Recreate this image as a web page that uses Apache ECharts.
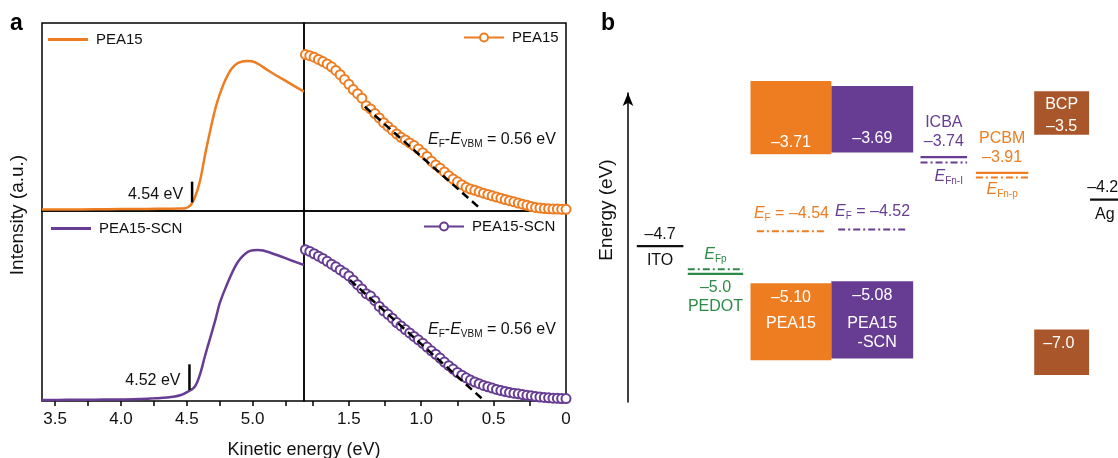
<!DOCTYPE html>
<html>
<head>
<meta charset="utf-8">
<title>UPS spectra and energy levels</title>
<script src="https://cdn.jsdelivr.net/npm/echarts@6/dist/echarts.min.js"></script>
<style>html,body{margin:0;padding:0;background:#fff;}</style>
</head>
<body>
<div id="chart" style="width:1118px;height:458px;"></div>
<script>
const FONT = '"Liberation Sans", Arial, sans-serif';
const ORANGE = '#EE7D22', PURPLE = '#673C93', BROWN = '#A9562A', GREEN = '#2E8B47', INK = '#111';

// (a) secondary electron cutoff: kinetic energy (eV) / normalised intensity
const cutoffKE_PEA15 = [3.40, 3.60, 3.80, 4.00, 4.20, 4.35, 4.45, 4.49, 4.51, 4.53, 4.56, 4.60, 4.64, 4.68, 4.72, 4.75, 4.79, 4.84, 4.89, 4.96, 5.02, 5.13, 5.26, 5.39];
const cutoffI_PEA15  = [0.008, 0.008, 0.009, 0.010, 0.011, 0.012, 0.013, 0.015, 0.021, 0.032, 0.070, 0.160, 0.305, 0.435, 0.553, 0.620, 0.693, 0.757, 0.788, 0.798, 0.791, 0.742, 0.688, 0.635];
const cutoffKE_SCN = [3.40, 3.60, 3.80, 4.00, 4.15, 4.25, 4.35, 4.45, 4.51, 4.56, 4.60, 4.64, 4.68, 4.72, 4.75, 4.80, 4.86, 4.91, 4.98, 5.04, 5.08, 5.19, 5.29, 5.39];
const cutoffI_SCN  = [0.005, 0.006, 0.007, 0.008, 0.011, 0.014, 0.018, 0.030, 0.050, 0.075, 0.140, 0.242, 0.338, 0.435, 0.515, 0.605, 0.698, 0.752, 0.790, 0.795, 0.792, 0.767, 0.741, 0.716];
const cutoffValues = [4.54, 4.52];

// (a) valence band region: binding energy (eV) / normalised intensity
const vbBE = [1.80, 1.77, 1.74, 1.71, 1.68, 1.65, 1.62, 1.59, 1.56, 1.53, 1.50, 1.47, 1.44, 1.41, 1.38, 1.35, 1.32, 1.29, 1.26, 1.23, 1.20, 1.17, 1.14, 1.11, 1.08, 1.05, 1.02, 0.99, 0.96, 0.93, 0.90, 0.87, 0.84, 0.81, 0.78, 0.75, 0.72, 0.69, 0.66, 0.63, 0.60, 0.57, 0.54, 0.51, 0.48, 0.45, 0.42, 0.39, 0.36, 0.33, 0.30, 0.27, 0.24, 0.21, 0.18, 0.15, 0.12, 0.09, 0.06, 0.03, 0.00];
const vbI_PEA15 = [0.832, 0.826, 0.818, 0.806, 0.795, 0.782, 0.767, 0.748, 0.725, 0.700, 0.674, 0.646, 0.624, 0.600, 0.560, 0.543, 0.518, 0.495, 0.470, 0.450, 0.430, 0.410, 0.392, 0.378, 0.362, 0.348, 0.330, 0.310, 0.290, 0.265, 0.245, 0.228, 0.208, 0.188, 0.170, 0.155, 0.140, 0.126, 0.117, 0.110, 0.102, 0.095, 0.088, 0.081, 0.074, 0.068, 0.061, 0.055, 0.049, 0.042, 0.036, 0.030, 0.024, 0.019, 0.016, 0.013, 0.012, 0.010, 0.010, 0.009, 0.009];
const vbI_SCN = [0.796, 0.787, 0.775, 0.762, 0.750, 0.735, 0.720, 0.706, 0.690, 0.675, 0.658, 0.636, 0.612, 0.590, 0.565, 0.552, 0.528, 0.498, 0.475, 0.456, 0.436, 0.413, 0.395, 0.376, 0.358, 0.340, 0.322, 0.304, 0.284, 0.264, 0.246, 0.226, 0.205, 0.186, 0.168, 0.150, 0.136, 0.122, 0.110, 0.100, 0.091, 0.082, 0.075, 0.068, 0.061, 0.055, 0.050, 0.045, 0.041, 0.038, 0.034, 0.030, 0.027, 0.024, 0.021, 0.019, 0.017, 0.015, 0.014, 0.013, 0.013];
// linear extrapolation of the VB onset
const fitPEA15 = [[1.39, 0.555], [0.594, 0.014]];
const fitSCN = [[1.493, 0.637], [0.583, 0.014]];
const vbOffset = 0.56;

// (b) energy levels (eV)
const perovskiteCBM = [-3.71, -3.69];
const perovskiteVBM = [-5.10, -5.08];
const perovskiteEF = [-4.54, -4.52];
const itoWF = -4.7, pedotLevel = -5.0, agWF = -4.2;
const icbaLUMO = -3.74, pcbmLUMO = -3.91;
const bcpLevels = [-3.5, -7.0];
const quasiFermi = [-4.95, -3.80, -3.96]; // E_Fp, E_Fn-I, E_Fn-p

// schematic layout for (b): columns on a 0-100 axis, box depths in eV
const col = {
  ITO: [1.8, 11.3], PEDOT: [12.2, 23.5], PEA15: [25.0, 41.5], SCN: [41.5, 58.2],
  ICBA: [59.7, 69.2], PCBM: [71.0, 81.7], BCP: [82.9, 94.1], Ag: [94.3, 103]
};
const efCol = [[26.3, 40.4], [42.9, 56.9]];
const cbDepth = [0.79, 0.715, 0.47];
const vbDepth = [0.83, 0.83, 0.49];
const bcpVBDrawn = -5.6; // axis break for the -7.0 level

const mid = c => (c[0] + c[1]) / 2;
const fmt = (v, d) => '\u2013' + Math.abs(v).toFixed(d);
const zip = (xs, ys) => xs.map((x, i) => [x, ys[i]]);

const chart = echarts.init(document.getElementById('chart'));

function richFor(color) {
  return {
    i: { fontStyle: 'italic', fontSize: 16, fontFamily: FONT, fill: color },
    s: { fontSize: 10, fontFamily: FONT, fill: color, padding: [9, 0, 0, 0] }
  };
}

// boxes in (b)
const boxes = [
  [col.PEA15[0], col.PEA15[1], perovskiteCBM[0] + cbDepth[0], perovskiteCBM[0]],
  [col.SCN[0], col.SCN[1], perovskiteCBM[1] + cbDepth[1], perovskiteCBM[1]],
  [col.BCP[0], col.BCP[1], bcpLevels[0] + cbDepth[2], bcpLevels[0]],
  [col.PEA15[0], col.PEA15[1], perovskiteVBM[0], perovskiteVBM[0] - vbDepth[0]],
  [col.SCN[0], col.SCN[1], perovskiteVBM[1], perovskiteVBM[1] - vbDepth[1]],
  [col.BCP[0], col.BCP[1], bcpVBDrawn, bcpVBDrawn - vbDepth[2]]
];
const boxColors = [ORANGE, PURPLE, BROWN, ORANGE, PURPLE, BROWN];

// level lines in (b): x0, x1, energy
const levels = [
  [col.ITO[0], col.ITO[1], itoWF],
  [col.PEDOT[0], col.PEDOT[1], pedotLevel],
  [col.PEDOT[0], col.PEDOT[1], quasiFermi[0]],
  [efCol[0][0], efCol[0][1], perovskiteEF[0]],
  [efCol[1][0], efCol[1][1], perovskiteEF[1]],
  [col.ICBA[0], col.ICBA[1], icbaLUMO],
  [col.ICBA[0], col.ICBA[1], quasiFermi[1]],
  [col.PCBM[0], col.PCBM[1], pcbmLUMO],
  [col.PCBM[0], col.PCBM[1], quasiFermi[2]],
  [col.Ag[0], col.Ag[1], agWF]
];
// colour, 0 solid / 1 dash-dot
const levelStyle = [
  [INK, 0], [GREEN, 0], [GREEN, 1], [ORANGE, 1], [PURPLE, 1],
  [PURPLE, 0], [PURPLE, 1], [ORANGE, 0], [ORANGE, 1], [INK, 0]
];

// text in (b): x, energy, dy(px), text, color, align
const labels = [
  [mid(col.ITO), itoWF, -12, fmt(itoWF, 1), INK],
  [mid(col.ITO), itoWF, 14, 'ITO', INK],
  [mid(col.PEDOT), quasiFermi[0], -15, '{i|E}{s|Fp}', GREEN],
  [mid(col.PEDOT), pedotLevel, 14, fmt(pedotLevel, 1), GREEN],
  [mid(col.PEDOT), pedotLevel, 33, 'PEDOT', GREEN],
  [mid(efCol[0]), perovskiteEF[0], -18, '{i|E}{s|F} = ' + fmt(perovskiteEF[0], 2), ORANGE],
  [mid(efCol[1]), perovskiteEF[1], -18, '{i|E}{s|F} = ' + fmt(perovskiteEF[1], 2), PURPLE],
  [mid(col.PEA15), perovskiteCBM[0], -12, fmt(perovskiteCBM[0], 2), '#fff'],
  [mid(col.SCN), perovskiteCBM[1], -14, fmt(perovskiteCBM[1], 2), '#fff'],
  [mid(col.PEA15), perovskiteVBM[0], 14, fmt(perovskiteVBM[0], 2), '#fff'],
  [mid(col.PEA15), perovskiteVBM[0], 40, 'PEA15', '#fff'],
  [mid(col.SCN), perovskiteVBM[1], 14, fmt(perovskiteVBM[1], 2), '#fff'],
  [mid(col.SCN), perovskiteVBM[1], 42, 'PEA15', '#fff'],
  [mid(col.SCN) + 1, perovskiteVBM[1], 61, '-SCN', '#fff'],
  [mid(col.ICBA), icbaLUMO, -34, 'ICBA', PURPLE],
  [mid(col.ICBA), icbaLUMO, -15, fmt(icbaLUMO, 2), PURPLE],
  [mid(col.ICBA) + 1, quasiFermi[1], 14, '{i|E}{s|Fn-I}', PURPLE],
  [mid(col.PCBM), pcbmLUMO, -34, 'PCBM', ORANGE],
  [mid(col.PCBM), pcbmLUMO, -15, fmt(pcbmLUMO, 2), ORANGE],
  [mid(col.PCBM), quasiFermi[2], 12, '{i|E}{s|Fn-p}', ORANGE],
  [mid(col.BCP), bcpLevels[0], -30, 'BCP', '#fff'],
  [mid(col.BCP), bcpLevels[0], -8, fmt(bcpLevels[0], 1), '#fff'],
  [mid(col.BCP) - 0.6, bcpVBDrawn, 14, fmt(bcpLevels[1], 1), '#fff'],
  [col.Ag[0] - 0.6, agWF, -12, fmt(agWF, 1), INK, 'left'],
  [col.Ag[0] + 1, agWF, 15, 'Ag', INK, 'left']
];

function panelGrid(left, top, width, height) {
  return { left, top, width, height, show: true, borderColor: '#000', borderWidth: 1.5, backgroundColor: 'transparent' };
}
function hiddenAxis(gridIndex, extra) {
  return Object.assign({ type: 'value', gridIndex, show: false }, extra);
}
const keTicks = [3.5, 3.75, 4.0, 4.25, 4.5, 4.75, 5.0, 5.25];
const beTicks = [1.75, 1.5, 1.25, 1.0, 0.75, 0.5, 0.25];
const tickStyle = { show: true, inside: false, length: 5, lineStyle: { color: '#000', width: 1.5 } };
const labelStyle = { fontSize: 17, fontFamily: FONT, color: INK, margin: 10 };

const legendText = { fontSize: 15, fontFamily: FONT, color: INK, padding: [0, 0, 0, 3] };
function lineLegend(name, left, top) {
  return { data: [name], left, top, icon: 'rect', itemWidth: 40, itemHeight: 3, padding: 0, selectedMode: false,
    textStyle: legendText, formatter: n => n.split(' ')[0] };
}
function symbolLegend(name, left, top) {
  return { data: [name], left, top, itemWidth: 40, itemHeight: 10, padding: 0, selectedMode: false,
    textStyle: legendText, formatter: n => n.split(' ')[0] };
}

function markRender(params, api) {
  const a = api.coord([api.value(0), api.value(1)]);
  const b = api.coord([api.value(0), api.value(2)]);
  return {
    type: 'group',
    children: [
      { type: 'line', shape: { x1: a[0], y1: a[1], x2: b[0], y2: b[1] }, style: { stroke: '#000', lineWidth: 2.5 } },
      { type: 'text', x: a[0] - 9, y: (a[1] + b[1]) / 2 + 3,
        style: { text: api.value(0).toFixed(2) + ' eV', fill: INK, fontSize: 16, fontFamily: FONT, align: 'right', verticalAlign: 'middle' } }
    ]
  };
}
function offsetRender(params, api) {
  const p = api.coord([api.value(0), api.value(1)]);
  return {
    type: 'text', x: p[0], y: p[1],
    style: {
      text: '{i|E}{s|F}-{i|E}{s|VBM} = ' + vbOffset.toFixed(2) + ' eV',
      rich: richFor(INK), fill: INK, fontSize: 16, fontFamily: FONT, align: 'right', verticalAlign: 'middle'
    }
  };
}

const option = {
  animation: false,
  grid: [
    panelGrid(42, 23, 262, 188),
    panelGrid(304, 23, 262, 188),
    panelGrid(42, 211, 262, 190),
    panelGrid(304, 211, 262, 190),
    { left: 628, top: 93, width: 490, height: 309, show: false }
  ],
  xAxis: [
    hiddenAxis(0, { min: 3.4, max: 5.39 }),
    hiddenAxis(1, { min: 0, max: 1.81, inverse: true }),
    { type: 'value', gridIndex: 2, min: 3.4, max: 5.39, axisLine: { show: false }, splitLine: { show: false },
      axisTick: Object.assign({ customValues: keTicks }, tickStyle),
      axisLabel: Object.assign({ customValues: [3.5, 4.0, 4.5, 5.0], formatter: v => v.toFixed(1) }, labelStyle) },
    { type: 'value', gridIndex: 3, min: 0, max: 1.81, inverse: true, axisLine: { show: false }, splitLine: { show: false },
      axisTick: Object.assign({ customValues: beTicks }, tickStyle),
      axisLabel: Object.assign({ customValues: [1.5, 1.0, 0.5, 0], formatter: v => v === 0 ? '0' : v.toFixed(1) }, labelStyle) },
    hiddenAxis(4, { min: 0, max: 100 })
  ],
  yAxis: [
    hiddenAxis(0, { min: 0, max: 1 }),
    hiddenAxis(1, { min: 0, max: 1 }),
    hiddenAxis(2, { min: 0, max: 1 }),
    hiddenAxis(3, { min: 0, max: 1 }),
    { type: 'value', gridIndex: 4, min: -6.38, max: -3.05,
      axisLine: { show: true, symbol: ['none', 'arrow'], symbolSize: [8, 13], lineStyle: { color: '#000', width: 1.5 } },
      axisTick: { show: false }, axisLabel: { show: false }, splitLine: { show: false } }
  ],
  legend: [
    lineLegend('PEA15 cutoff', 48, 32),
    symbolLegend('PEA15 VB', 463, 30),
    lineLegend('PEA15-SCN cutoff', 51, 221),
    symbolLegend('PEA15-SCN VB', 423, 219)
  ],
  graphic: [
    { type: 'text', x: 10, y: 24, style: { text: 'a', fontSize: 23, fontWeight: 'bold', fontFamily: FONT, fill: '#000', verticalAlign: 'middle' } },
    { type: 'text', x: 601, y: 24, style: { text: 'b', fontSize: 23, fontWeight: 'bold', fontFamily: FONT, fill: '#000', verticalAlign: 'middle' } },
    { type: 'text', x: 18, y: 215, rotation: Math.PI / 2, style: { text: 'Intensity (a.u.)', fontSize: 19, fontFamily: FONT, fill: INK, align: 'center', verticalAlign: 'middle' } },
    { type: 'text', x: 304, y: 450, style: { text: 'Kinetic energy (eV)', fontSize: 18, fontFamily: FONT, fill: INK, align: 'center', verticalAlign: 'middle' } },
    { type: 'text', x: 607, y: 210, rotation: Math.PI / 2, style: { text: 'Energy (eV)', fontSize: 19, fontFamily: FONT, fill: INK, align: 'center', verticalAlign: 'middle' } }
  ],
  series: [
    { name: 'PEA15 cutoff', type: 'line', xAxisIndex: 0, yAxisIndex: 0, data: zip(cutoffKE_PEA15, cutoffI_PEA15),
      symbol: 'none', smooth: 0.35, color: ORANGE, lineStyle: { color: ORANGE, width: 2.5 } },
    { name: 'PEA15-SCN cutoff', type: 'line', xAxisIndex: 2, yAxisIndex: 2, data: zip(cutoffKE_SCN, cutoffI_SCN),
      symbol: 'none', smooth: 0.35, color: PURPLE, lineStyle: { color: PURPLE, width: 2.5 } },
    { name: 'PEA15 VB', type: 'line', xAxisIndex: 1, yAxisIndex: 1, data: zip(vbBE, vbI_PEA15),
      symbol: 'emptyCircle', symbolSize: 9, showAllSymbol: true, color: ORANGE,
      itemStyle: { color: ORANGE, borderWidth: 1.3 }, lineStyle: { color: ORANGE, width: 1.5 } },
    { name: 'PEA15-SCN VB', type: 'line', xAxisIndex: 3, yAxisIndex: 3, data: zip(vbBE, vbI_SCN),
      symbol: 'emptyCircle', symbolSize: 9, showAllSymbol: true, color: PURPLE,
      itemStyle: { color: PURPLE, borderWidth: 1.3 }, lineStyle: { color: PURPLE, width: 1.5 } },
    { name: 'fit1', type: 'line', xAxisIndex: 1, yAxisIndex: 1, data: fitPEA15, symbol: 'none', silent: true, z: 5,
      lineStyle: { color: '#000', width: 2.5, type: [8, 5] } },
    { name: 'fit2', type: 'line', xAxisIndex: 3, yAxisIndex: 3, data: fitSCN, symbol: 'none', silent: true, z: 5,
      lineStyle: { color: '#000', width: 2.5, type: [8, 5] } },
    { type: 'custom', xAxisIndex: 0, yAxisIndex: 0, data: [[cutoffValues[0], 0.046, 0.156]],
      encode: { x: 0, y: [1, 2] }, renderItem: markRender, z: 6 },
    { type: 'custom', xAxisIndex: 2, yAxisIndex: 2, data: [[cutoffValues[1], 0.058, 0.193]],
      encode: { x: 0, y: [1, 2] }, renderItem: markRender, z: 6 },
    { type: 'custom', xAxisIndex: 1, yAxisIndex: 1, data: [[0.07, 0.378]], encode: { x: 0, y: 1 }, renderItem: offsetRender, z: 6 },
    { type: 'custom', xAxisIndex: 3, yAxisIndex: 3, data: [[0.07, 0.374]], encode: { x: 0, y: 1 }, renderItem: offsetRender, z: 6 },
    // (b) boxes
    { type: 'custom', xAxisIndex: 4, yAxisIndex: 4, data: boxes, encode: { x: [0, 1], y: [2, 3] }, clip: false,
      renderItem: (params, api) => {
        const a = api.coord([api.value(0), api.value(2)]);
        const b = api.coord([api.value(1), api.value(3)]);
        return { type: 'rect', shape: { x: a[0], y: a[1], width: b[0] - a[0], height: b[1] - a[1] },
          style: { fill: boxColors[params.dataIndex] } };
      } },
    // (b) levels
    { type: 'custom', xAxisIndex: 4, yAxisIndex: 4, data: levels, encode: { x: [0, 1], y: 2 }, clip: false, z: 3,
      renderItem: (params, api) => {
        const a = api.coord([api.value(0), api.value(2)]);
        const b = api.coord([api.value(1), api.value(2)]);
        const st = levelStyle[params.dataIndex];
        return { type: 'line', shape: { x1: a[0], y1: a[1], x2: b[0], y2: b[1] },
          style: { stroke: st[0], lineWidth: st[1] ? 2 : 2.2, lineDash: st[1] ? [7, 3, 2, 3] : null } };
      } },
    // (b) labels
    { type: 'custom', xAxisIndex: 4, yAxisIndex: 4, data: labels.map(l => [l[0], l[1]]), encode: { x: 0, y: 1 }, clip: false, z: 4,
      renderItem: (params, api) => {
        const l = labels[params.dataIndex];
        const p = api.coord([api.value(0), api.value(1)]);
        return { type: 'text', x: p[0], y: p[1] + l[2],
          style: { text: l[3], fill: l[4], fontSize: 16, fontFamily: FONT, align: l[5] || 'center', verticalAlign: 'middle', rich: richFor(l[4]) } };
      } }
  ]
};

option && chart.setOption(option);
</script>
</body>
</html>
